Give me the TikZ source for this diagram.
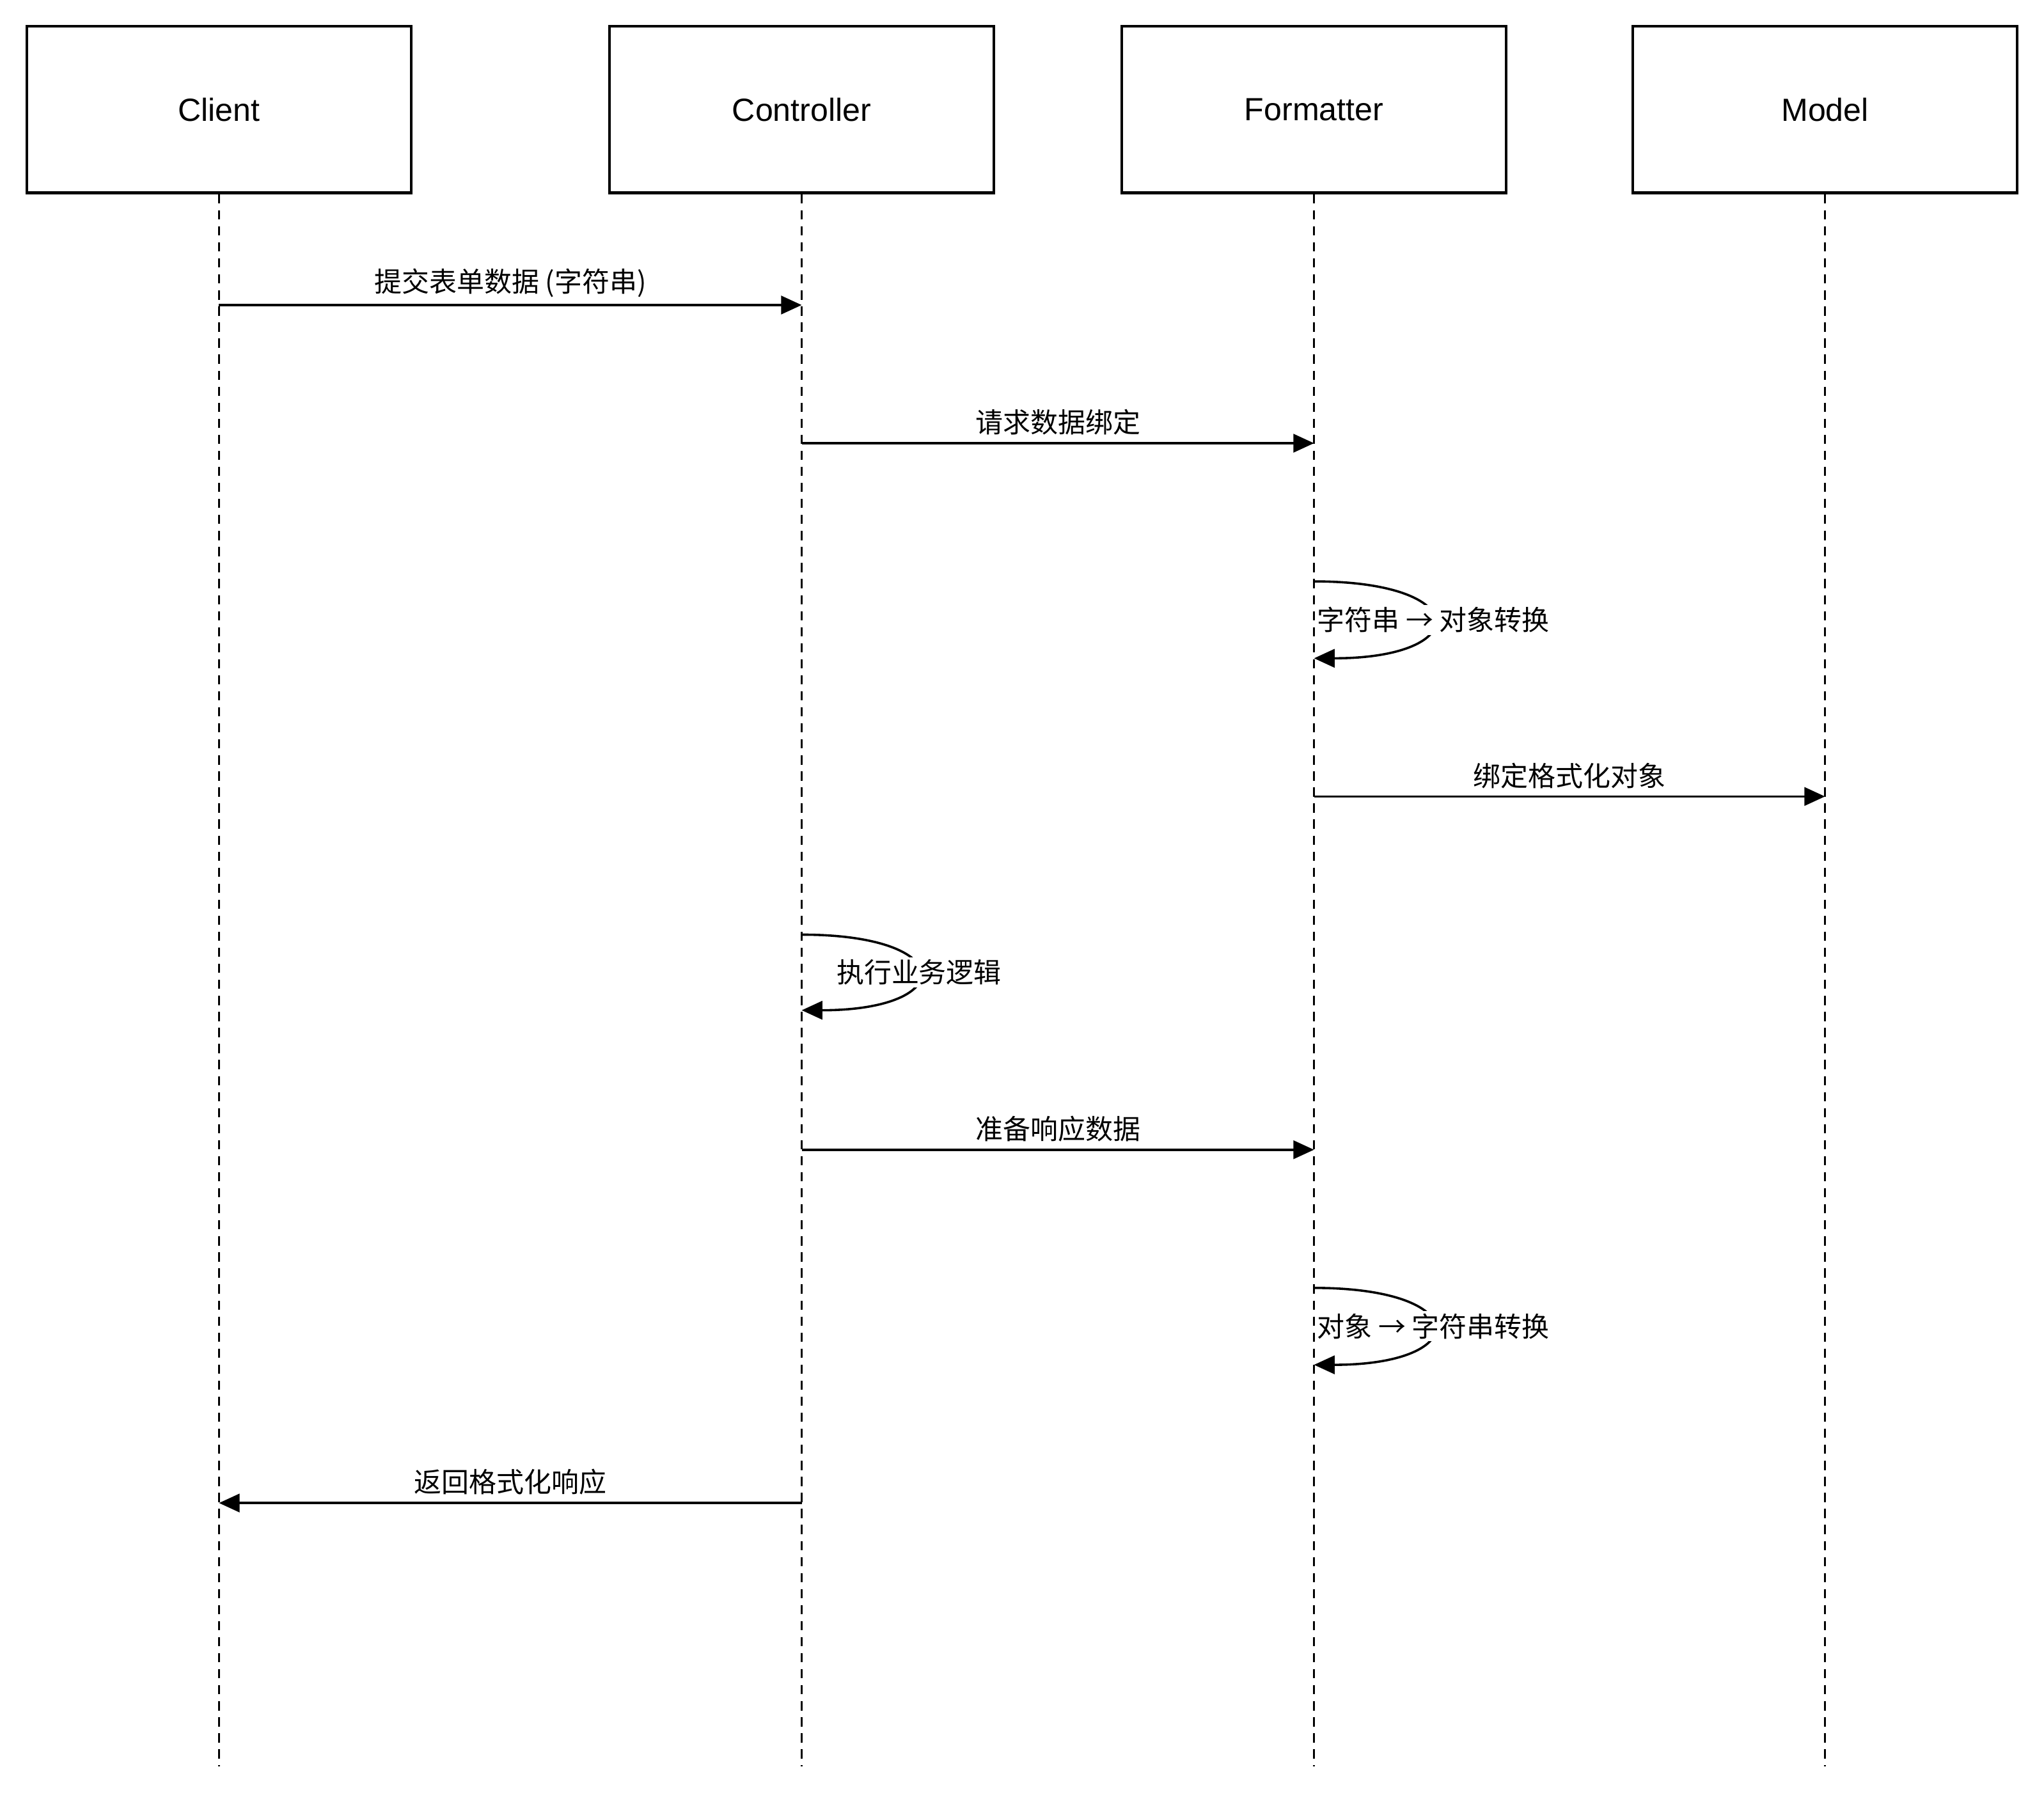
\documentclass[tikz,border=0pt]{standalone}
\usepackage{fontspec}
\setmainfont{Liberation Sans}
\newfontfamily\cjk{Noto Sans CJK SC}
\usetikzlibrary{arrows.meta}
\begin{document}
\begin{tikzpicture}[x=0.02cm,y=-0.02cm,
 box/.style={draw,line width=1.2pt,minimum width=5.9cm,minimum height=2.56cm,font=\fontsize{14}{16}\selectfont,inner sep=0},
 life/.style={dashed,line width=1pt,dash pattern=on 4pt off 3pt},
 msg/.style={line width=1pt,-{Triangle[length=9pt,width=8pt]}},
 lbl/.style={font=\cjk\fontsize{12}{14}\selectfont,fill=white,inner sep=1pt}]
\useasboundingbox (0,0) rectangle (1568,1380);
\foreach \n/\t/\x in {cl/Client/168,co/Controller/615,fo/Formatter/1008,mo/Model/1400}{
 \node[box] (\n) at (\x,84) {\t};
 \coordinate (\n e) at (\x,1355);
 \draw[life] (\n.south) -- (\n e);
}
\foreach \n/\x in {cl/168,co/615,fo/1008,mo/1400}
 \foreach \y in {234,340,446,505,611,717,775,882,988,1047,1153}
  \coordinate (\n\y) at (\x,\y);
\draw[msg] (cl234) -- node[lbl,above=2pt]{提交表单数据 (字符串)} (co234);
\draw[msg] (co340) -- node[lbl,above=2pt]{请求数据绑定} (fo340);
\draw[msg] (fo446) .. controls (1130,446) and (1130,505) .. node[lbl,pos=0.5]{字符串 → 对象转换} (fo505);
\draw[msg] (fo611) -- node[lbl,above=2pt]{绑定格式化对象} (mo611);
\draw[msg] (co717) .. controls (735,717) and (735,775) .. node[lbl,pos=0.5]{执行业务逻辑} (co775);
\draw[msg] (co882) -- node[lbl,above=2pt]{准备响应数据} (fo882);
\draw[msg] (fo988) .. controls (1130,988) and (1130,1047) .. node[lbl,pos=0.5]{对象 → 字符串转换} (fo1047);
\draw[msg] (co1153) -- node[lbl,above=2pt]{返回格式化响应} (cl1153);
\end{tikzpicture}
\end{document}
